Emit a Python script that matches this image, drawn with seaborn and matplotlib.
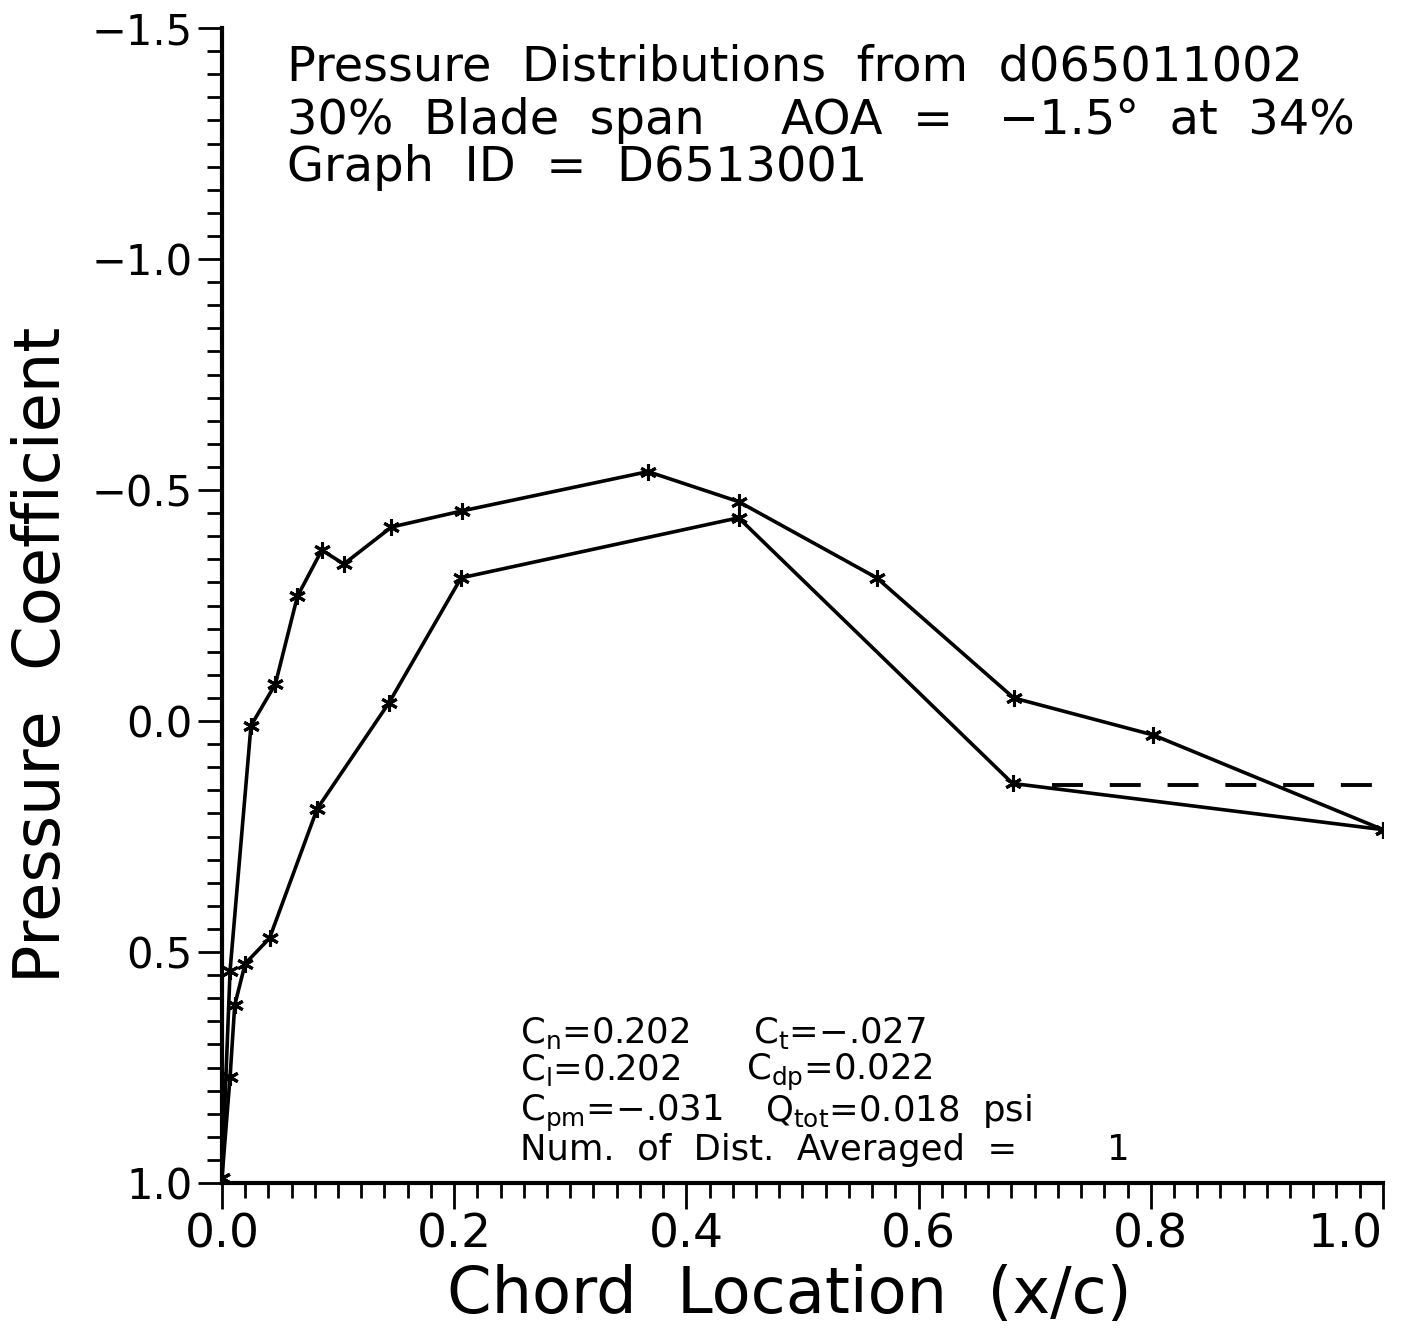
import matplotlib
matplotlib.use("Agg")
import matplotlib.pyplot as plt
import seaborn as sns
from matplotlib.ticker import MultipleLocator

# upper surface (suction side) and lower surface
x_upper = [0.0, 0.007, 0.025, 0.046, 0.065, 0.086, 0.105, 0.146, 0.207,
           0.367, 0.445, 0.564, 0.682, 0.802, 1.0]
cp_upper = [0.99, 0.54, 0.01, -0.08, -0.27, -0.37, -0.34, -0.42, -0.455,
            -0.54, -0.475, -0.31, -0.05, 0.03, 0.235]

x_lower = [0.0, 0.007, 0.011, 0.020, 0.041, 0.082, 0.144, 0.206, 0.445,
           0.681, 1.0]
cp_lower = [0.99, 0.77, 0.615, 0.525, 0.47, 0.19, -0.04, -0.31, -0.44,
            0.135, 0.235]

# dashed reference line at the trailing edge
x_ref = [0.715, 1.0]
cp_ref = [0.138, 0.138]

x_ticks = [0.0, 0.2, 0.4, 0.6, 0.8, 1.0]

title_lines = ["Pressure  Distributions  from  d065011002",
               "30%  Blade  span     AOA  =   \u22121.5\u00b0  at  34%",
               "Graph  ID  =  D6513001"]

sns.set_style("ticks")
plt.rcParams["font.family"] = ["DejaVu Sans"]
plt.rcParams["mathtext.default"] = "regular"
plt.rcParams["lines.scale_dashes"] = False
for k in ("text.color", "axes.labelcolor", "xtick.color", "ytick.color", "axes.edgecolor"):
    plt.rcParams[k] = "black"

fig = plt.figure(figsize=(14.11, 13.38), dpi=100)
ax = fig.add_axes([0.1573, 0.1158, 0.8228, 0.8632])

mk = dict(marker=(6, 2, 0), markersize=12, markeredgewidth=2.2,
          markeredgecolor="black", color="black", linewidth=2.6)
sns.lineplot(x=x_upper, y=cp_upper, ax=ax, sort=False, estimator=None, **mk)
sns.lineplot(x=x_lower, y=cp_lower, ax=ax, sort=False, estimator=None, **mk)
sns.lineplot(x=x_ref, y=cp_ref, ax=ax, sort=False, estimator=None,
             color="black", linewidth=2.8, linestyle=(0, (22.3, 19.3)))

ax.set_xlim(0, 1.0)
ax.set_ylim(1.0, -1.5)
ax.set_xticks(x_ticks, [f"{t:.1f}" for t in x_ticks])
ax.xaxis.set_minor_locator(MultipleLocator(0.02))
ax.yaxis.set_major_locator(MultipleLocator(0.5))
ax.yaxis.set_minor_locator(MultipleLocator(0.05))
ax.yaxis.set_major_formatter(
    matplotlib.ticker.FuncFormatter(lambda v, p: f"{v:.1f}".replace("-", "\u2212")))

sns.despine(ax=ax)
for s in ("left", "bottom"):
    ax.spines[s].set_linewidth(3)
ax.tick_params(axis="both", which="both", direction="out", width=2, color="black")
ax.tick_params(axis="y", which="major", length=17, labelsize=30, pad=4)
ax.tick_params(axis="y", which="minor", length=11)
ax.tick_params(axis="x", which="major", length=19, labelsize=34, pad=2)
ax.tick_params(axis="x", which="minor", length=11)

# keep the last x tick label inside the figure
for lab in ax.get_xticklabels():
    if lab.get_text() == "1.0":
        lab.set_horizontalalignment("right")

ax.set_xlabel("Chord  Location  (x/c)", fontsize=46)
ax.set_ylabel("Pressure  Coefficient", fontsize=46)
ax.xaxis.set_label_coords(0.489, -0.07)
ax.yaxis.set_label_coords(-0.128, 0.457)

# header text
for txt, yy in zip(title_lines, [0.955, 0.908, 0.868]):
    ax.text(0.056, yy, txt, transform=ax.transAxes, fontsize=34.5, va="baseline")

# integrated coefficients box
fs = 25.5
ax.text(0.257, 0.121, "C$_{n}$=0.202", transform=ax.transAxes, fontsize=fs, va="baseline")
ax.text(0.457, 0.121, "C$_{t}$=\u2212.027", transform=ax.transAxes, fontsize=fs, va="baseline")
ax.text(0.257, 0.089, "C$_{l}$=0.202", transform=ax.transAxes, fontsize=fs, va="baseline")
ax.text(0.451, 0.089, "C$_{dp}$=0.022", transform=ax.transAxes, fontsize=fs, va="baseline")
ax.text(0.257, 0.054, "C$_{pm}$=\u2212.031", transform=ax.transAxes, fontsize=fs, va="baseline")
ax.text(0.468, 0.054, "Q$_{tot}$=0.018  psi", transform=ax.transAxes, fontsize=fs, va="baseline")
ax.text(0.257, 0.020, "Num.  of  Dist.  Averaged  =        1", transform=ax.transAxes,
        fontsize=fs, va="baseline")

fig.savefig("out.png", dpi=100)
